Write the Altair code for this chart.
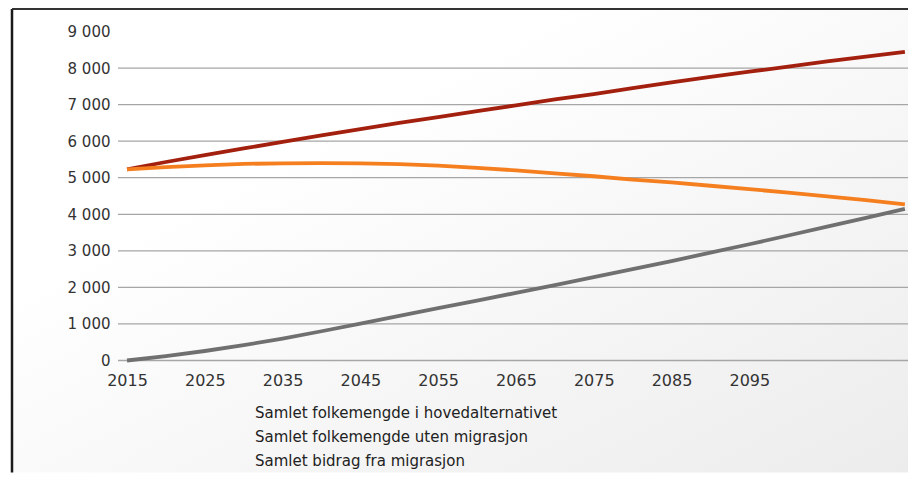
import altair as alt
import pandas as pd

years = [2015, 2020, 2025, 2030, 2035, 2040, 2045, 2050, 2055, 2060, 2065,
         2070, 2075, 2080, 2085, 2090, 2095, 2100, 2105, 2110, 2115]
hoved = [5230, 5430, 5620, 5800, 5980, 6160, 6330, 6500, 6660, 6820, 6980,
         7140, 7290, 7450, 7610, 7760, 7900, 8040, 8180, 8310, 8440]
uten = [5230, 5290, 5340, 5380, 5390, 5400, 5390, 5370, 5330, 5270, 5200,
        5120, 5040, 4950, 4870, 4780, 4690, 4590, 4490, 4390, 4270]
bidrag = [0, 120, 260, 420, 600, 800, 1010, 1220, 1430, 1640, 1850,
          2060, 2280, 2500, 2720, 2950, 3180, 3420, 3660, 3900, 4150]

series_names = ["Samlet folkemengde i hovedalternativet",
                "Samlet folkemengde uten migrasjon",
                "Samlet bidrag fra migrasjon"]
series_colors = ["#A3200F", "#F57F1F", "#707070"]
x_ticks = [2015, 2025, 2035, 2045, 2055, 2065, 2075, 2085, 2095]
y_ticks = [0, 1000, 2000, 3000, 4000, 5000, 6000, 7000, 8000, 9000]
grid_values = [0, 1000, 2000, 3000, 4000, 5000, 6000, 7000, 8000]

rows = []
for name, vals in zip(series_names, [hoved, uten, bidrag]):
    for yr, v in zip(years, vals):
        rows.append({"year": yr, "value": v, "serie": name})
df = pd.DataFrame(rows)
grid_df = pd.DataFrame({"value": grid_values})

W, H = 790, 329
FONT = "DejaVu Sans"

x_scale = alt.Scale(domain=[2013.84, 2115.4], nice=False, zero=False)
y_scale = alt.Scale(domain=[0, 9000], nice=False)
y_axis = alt.Axis(values=y_ticks, title=None, ticks=False, domain=False,
                  grid=False,
                  labelExpr="replace(format(datum.value, ','), ',', ' ')",
                  labelPadding=8, labelFont=FONT, labelFontSize=15,
                  labelColor="#333333", zindex=1)

grad = alt.LinearGradient(
    gradient="linear", x1=0, y1=0, x2=1, y2=1,
    stops=[alt.GradientStop(color="#ffffff", offset=0),
           alt.GradientStop(color="#ffffff", offset=0.3),
           alt.GradientStop(color="#ececec", offset=1)])

one = pd.DataFrame({"a": [0]})
bg = alt.Chart(one).mark_rect(color=grad).encode(
    x=alt.value(-106), x2=alt.value(W), y=alt.value(-22.5), y2=alt.value(H + 112))
frame_left = alt.Chart(one).mark_rule(color="#1a1a1a", strokeWidth=2.5).encode(
    x=alt.value(-106), y=alt.value(-22.5), y2=alt.value(H + 112))
frame_top = alt.Chart(one).mark_rule(color="#333333", strokeWidth=2).encode(
    x=alt.value(-106), x2=alt.value(W), y=alt.value(-22.5))

grid = alt.Chart(grid_df).mark_rule(color="#a6a6a6", strokeWidth=1.3).encode(
    y=alt.Y("value:Q", scale=y_scale, axis=y_axis),
    x=alt.value(0), x2=alt.value(W))

lines = alt.Chart(df).mark_line(strokeWidth=3.8).encode(
    x=alt.X("year:Q", scale=x_scale,
            axis=alt.Axis(values=x_ticks, format="d", title=None, grid=False,
                          ticks=False, domain=False, labelFlush=False,
                          labelPadding=12, labelFont=FONT, labelFontSize=16,
                          labelColor="#333333", zindex=1)),
    y=alt.Y("value:Q", scale=y_scale, axis=y_axis),
    color=alt.Color("serie:N",
                    scale=alt.Scale(domain=series_names, range=series_colors),
                    legend=alt.Legend(orient="none", legendX=122, legendY=374,
                                      direction="vertical", title=None,
                                      symbolOpacity=0, symbolSize=0,
                                      symbolStrokeWidth=0, labelOffset=0,
                                      labelFont=FONT, labelFontSize=15,
                                      labelColor="#222222", rowPadding=8,
                                      labelLimit=700)),
    order="year:Q",
)

chart = alt.layer(bg, frame_left, frame_top, grid, lines).properties(
    width=W, height=H,
    autosize=alt.AutoSizeParams(type="none"),
    padding={"left": 110, "top": 23.5, "right": 0, "bottom": 112},
).configure_view(stroke=None).configure(background="#ffffff")

chart.save("out.html", embed_options={"renderer": "svg", "actions": False})
